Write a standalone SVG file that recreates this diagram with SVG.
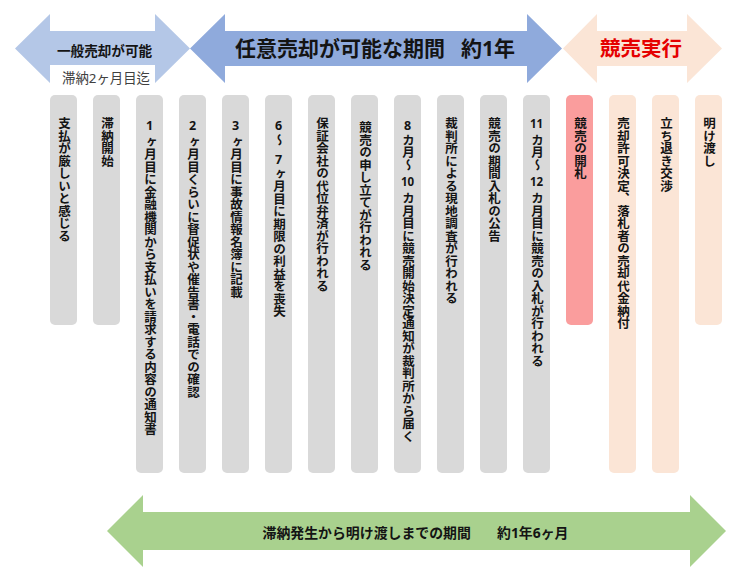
<svg xmlns="http://www.w3.org/2000/svg" width="750" height="577" viewBox="0 0 750 577">
<style>
.t{font-family:"Noto Sans","Noto Sans CJK JP",sans-serif;fill:#141414}
.b{font-weight:700}
.c{dominant-baseline:central}
.v{writing-mode:vertical-rl;text-orientation:upright;font-size:12.5px;font-weight:700}
.hz{font-size:11.5px;font-weight:700;text-anchor:middle;dominant-baseline:central}
.col{fill:#d9d9d9}
.pk{fill:#fa9d9d}
.pe{fill:#fbe5d6}
</style>
<rect width="750" height="577" fill="#ffffff"/>
<g id="band-general">
<polygon points="15,48.5 50,14 50,31 155,31 155,14 190,48.5 155,83 155,65 50,65 50,83" fill="#b4c7e7"/>
<text class="t b c" x="57" y="50" font-size="13.6">一般売却が可能</text>
<text class="t c" x="62" y="78" font-size="13.4" style="fill:#404040">滞納2ヶ月目迄</text>
</g>
<g id="band-voluntary">
<polygon points="190,48.5 225,14 225,31 527,31 527,14 562,48.5 527,83 527,66 225,66 225,83" fill="#8faadc"/>
<text class="t b c" x="235" y="48" font-size="21">任意売却が可能な期間 <tspan x="461">約1年</tspan></text>
</g>
<g id="band-auction">
<polygon points="563,48.5 597,14 597,31 687,31 687,14 722,48.5 687,83 687,66 597,66 597,83" fill="#fbe5d6"/>
<text class="t b c" x="600" y="48" font-size="20.5" style="fill:#e50000">競売実行</text>
</g>
<g id="step1"><rect class="col" x="50" y="95" width="27" height="230" rx="5"/>
<text class="t v" x="63.5" y="117">支払が厳しいと感じる</text></g>
<g id="step2"><rect class="col" x="93" y="95" width="27" height="230" rx="5"/>
<text class="t v" x="106.5" y="117">滞納開始</text></g>
<g id="step3"><rect class="col" x="136" y="95" width="27" height="378" rx="5"/>
<text class="t v" x="149.5" y="117">1 <tspan y="135.75">ヶ月目に金融機関から支払いを請求する内容の通知書</tspan></text></g>
<g id="step4"><rect class="col" x="179" y="95" width="27" height="378" rx="5"/>
<text class="t v" x="192.5" y="117">2 <tspan y="135.75">ヶ月目くらいに督促状や催告書・電話での確認</tspan></text></g>
<g id="step5"><rect class="col" x="222" y="95" width="27" height="378" rx="5"/>
<text class="t v" x="235.5" y="117">3 <tspan y="135.75">ヶ月目に事故情報名簿に記載</tspan></text></g>
<g id="step6"><rect class="col" x="265" y="95" width="27" height="378" rx="5"/>
<text class="t v" x="278.5" y="117">6 <tspan y="133.6">～</tspan> <tspan y="150.4">7</tspan> <tspan y="167">ヶ月目に期限の利益を喪失</tspan></text></g>
<g id="step7"><rect class="col" x="308" y="95" width="27" height="378" rx="5"/>
<text class="t v" x="321.5" y="117">保証会社の代位弁済が行われる</text></g>
<g id="step8"><rect class="col" x="351" y="95" width="27" height="378" rx="5"/>
<text class="t v" x="364.5" y="121">競売の申し立てが行われる</text></g>
<g id="step9"><rect class="col" x="394" y="95" width="27" height="378" rx="5"/>
<text class="t v" x="407.5" y="117">8 <tspan y="133.6">カ月～</tspan> <tspan y="191.9">カ月目に競売開始決定通知が裁判所から届く</tspan></text>
<text class="t hz" x="407.5" y="181.5">10</text></g>
<g id="step10"><rect class="col" x="437" y="95" width="27" height="378" rx="5"/>
<text class="t v" x="450.5" y="117">裁判所による現地調査が行われる</text></g>
<g id="step11"><rect class="col" x="480" y="95" width="27" height="378" rx="5"/>
<text class="t v" x="493.5" y="117">競売の期間入札の公告</text></g>
<g id="step12"><rect class="col" x="523" y="95" width="27" height="378" rx="5"/>
<text class="t hz" x="536.5" y="123.5">11</text>
<text class="t v" x="536.5" y="133.6">カ月～ <tspan y="191.9">カ月目に競売の入札が行われる</tspan></text>
<text class="t hz" x="536.5" y="181.5">12</text></g>
<g id="step13"><rect class="pk" x="566" y="95" width="27" height="230" rx="5"/>
<text class="t v" x="579.5" y="117">競売の開札</text></g>
<g id="step14"><rect class="pe" x="609" y="95" width="27" height="378" rx="5"/>
<text class="t v" x="622.5" y="117">売却許可決定、落札者の売却代金納付</text></g>
<g id="step15"><rect class="pe" x="652" y="95" width="27" height="378" rx="5"/>
<text class="t v" x="665.5" y="117">立ち退き交渉</text></g>
<g id="step16"><rect class="pe" x="695" y="95" width="27" height="230" rx="5"/>
<text class="t v" x="708.5" y="117">明け渡し</text></g>
<g id="band-total">
<polygon points="107,531 143,495 143,512 690,512 690,495 726,531 690,567 690,550 143,550 143,567" fill="#a9d18e"/>
<text class="t b c" x="262.5" y="532" font-size="13.9">滞納発生から明け渡しまでの期間 <tspan x="497">約1年6ヶ月</tspan></text>
</g>
<g id="connectors"></g>
</svg>
